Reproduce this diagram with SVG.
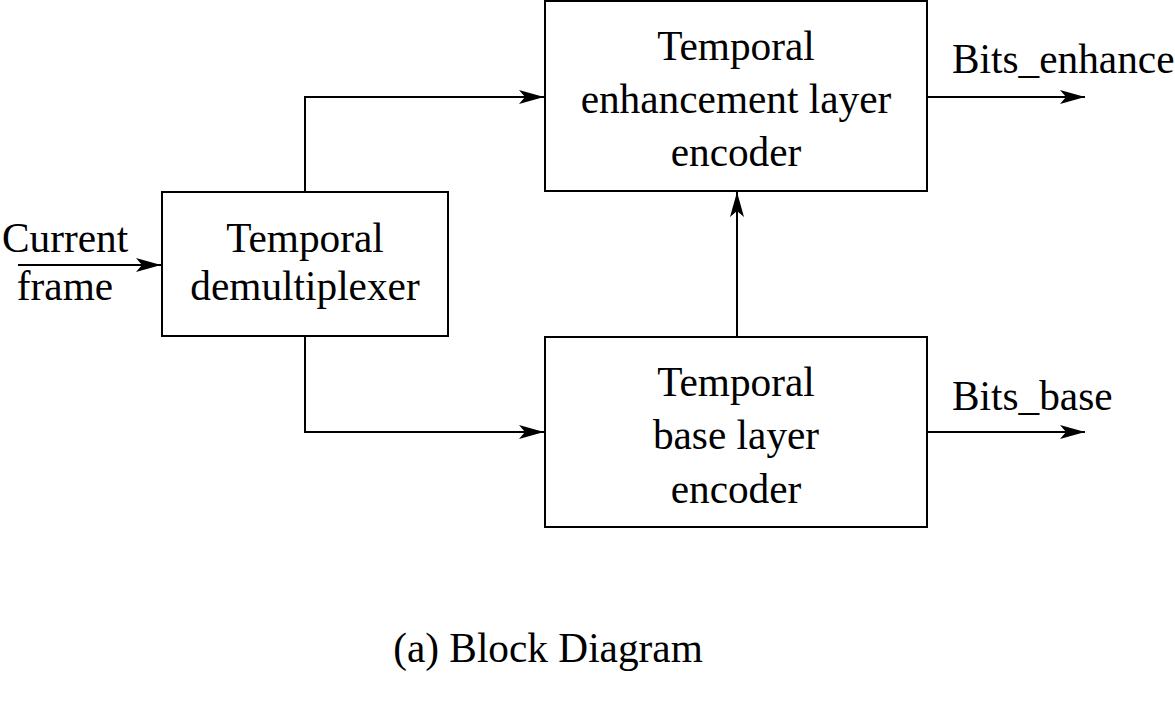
<svg xmlns="http://www.w3.org/2000/svg" width="1175" height="702" viewBox="0 0 1175 702">
<style>
.box{fill:#fff;stroke:#000;stroke-width:2}
.ln{fill:none;stroke:#000;stroke-width:2}
text{font-family:"Liberation Serif","Times New Roman",serif;font-size:41.3px;fill:#000}
.c{text-anchor:middle}
</style>
<defs>
<marker id="ah" markerUnits="userSpaceOnUse" markerWidth="28" markerHeight="16" refX="26" refY="8" orient="auto" viewBox="0 0 28 16">
<path d="M26,8 L1,1 L7,8 L1,15 Z" fill="#000"/>
</marker>
</defs>
<rect width="1175" height="702" fill="#fff"/>
<g id="connectors">
<line class="ln" x1="18" y1="265" x2="161" y2="265" marker-end="url(#ah)"/>
<polyline class="ln" points="305,192 305,97 544,97" marker-end="url(#ah)"/>
<polyline class="ln" points="305,336 305,432 544,432" marker-end="url(#ah)"/>
<line class="ln" x1="737" y1="336" x2="737" y2="192" marker-end="url(#ah)"/>
<line class="ln" x1="927" y1="97" x2="1085" y2="97" marker-end="url(#ah)"/>
<line class="ln" x1="927" y1="432" x2="1085" y2="432" marker-end="url(#ah)"/>
</g>
<g id="input-label">
<text x="2" y="252">Current</text>
<text x="65" y="300" class="c">frame</text>
</g>
<g id="demux">
<rect class="box" x="162" y="192" width="286" height="144"/>
<text x="305" y="252" class="c">Temporal</text>
<text x="305" y="300" class="c">demultiplexer</text>
</g>
<g id="enhance">
<rect class="box" x="545" y="1" width="382" height="190"/>
<text x="736" y="60" class="c">Temporal</text>
<text x="736" y="113" class="c">enhancement layer</text>
<text x="736" y="166" class="c">encoder</text>
</g>
<g id="base">
<rect class="box" x="545" y="337" width="382" height="190"/>
<text x="736" y="396" class="c">Temporal</text>
<text x="736" y="449" class="c">base layer</text>
<text x="736" y="503" class="c">encoder</text>
</g>
<g id="outputs">
<text x="952" y="73">Bits_enhance</text>
<text x="952" y="410">Bits_base</text>
</g>
<text x="548" y="662" class="c">(a) Block Diagram</text>
</svg>
